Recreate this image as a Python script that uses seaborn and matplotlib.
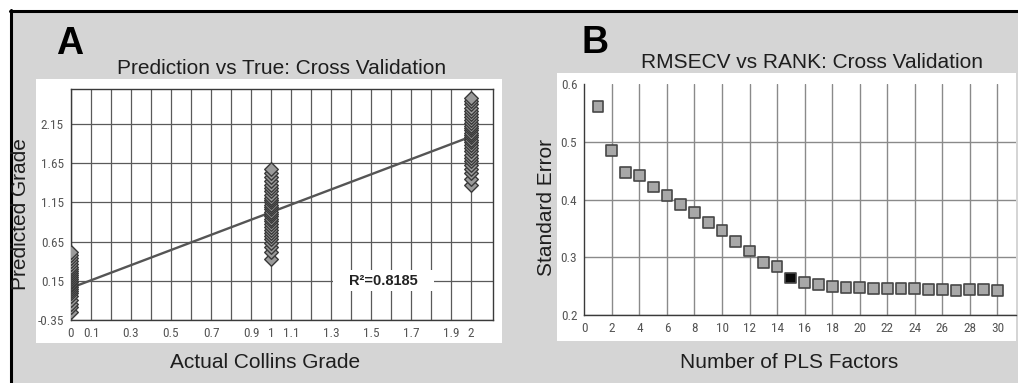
import matplotlib
matplotlib.use("Agg")
import matplotlib.pyplot as plt
from matplotlib.patches import Rectangle
from matplotlib.lines import Line2D
import seaborn as sns
import pandas as pd

# ---------------- Data: panel A (Prediction vs True) ----------------
grade0_pred = [-0.25, -0.19, -0.14, -0.09, -0.05, -0.01, 0.02, 0.05, 0.07, 0.09,
               0.11, 0.13, 0.15, 0.17, 0.2, 0.22, 0.25, 0.27, 0.3, 0.33,
               0.36, 0.4, 0.44, 0.48, 0.52]
grade1_pred = [0.43, 0.52, 0.58, 0.63, 0.68, 0.72, 0.76, 0.8, 0.84, 0.88,
               0.91, 0.94, 0.97, 1.0, 1.03, 1.06, 1.09, 1.12, 1.15, 1.18,
               1.21, 1.25, 1.29, 1.33, 1.37, 1.42, 1.47, 1.52, 1.57]
grade2_pred = [1.37, 1.45, 1.52, 1.58, 1.63, 1.68, 1.72, 1.76, 1.8, 1.84,
               1.88, 1.92, 1.95, 1.98, 2.01, 2.04, 2.07, 2.1, 2.13, 2.16,
               2.2, 2.24, 2.28, 2.32, 2.36, 2.4, 2.44, 2.48]
fit_x = [0.0, 2.0]
fit_y = [0.06, 1.99]
r2_label = "R\u00b2=0.8185"
a_xticks = [0.0, 0.1, 0.2, 0.3, 0.4, 0.5, 0.6, 0.7, 0.8, 0.9, 1.0,
            1.1, 1.2, 1.3, 1.4, 1.5, 1.6, 1.7, 1.8, 1.9, 2.0]
a_xticklabels = ["0", "0.1", "", "0.3", "", "0.5", "", "0.7", "", "0.9", "1",
                 "1.1", "", "1.3", "", "1.5", "", "1.7", "", "1.9", "2"]
a_yticks = [-0.35, 0.15, 0.65, 1.15, 1.65, 2.15]
a_yticklabels = ["-0.35", "0.15", "0.65", "1.15", "1.65", "2.15"]

# ---------------- Data: panel B (RMSECV vs rank) ----------------
n_factors = list(range(1, 31))
rmsecv = [0.561, 0.485, 0.447, 0.442, 0.422, 0.407, 0.392, 0.378, 0.361, 0.347,
          0.327, 0.311, 0.291, 0.284, 0.264, 0.257, 0.253, 0.249, 0.248, 0.248,
          0.246, 0.246, 0.246, 0.246, 0.244, 0.244, 0.242, 0.244, 0.244, 0.242]
selected_factor = 15
b_xticks = list(range(0, 31, 2))
b_yticks = [0.2, 0.3, 0.4, 0.5, 0.6]
b_yticklabels = ["0.2", "0.3", "0.4", "0.5", "0.6"]

# ---------------- Styling ----------------
sns.set_style("white")
plt.rcParams["font.family"] = ["Liberation Sans", "DejaVu Sans"]

W, H = 1018, 383
fig = plt.figure(figsize=(W / 100, H / 100), dpi=100)
fig.patch.set_facecolor("white")

def fx(px):
    return px / W

def fy(py):
    return 1 - py / H

def frect(x0, y0, x1, y1, **kw):
    r = Rectangle((fx(x0), fy(y1)), fx(x1) - fx(x0), fy(y0) - fy(y1),
                  transform=fig.transFigure, **kw)
    fig.patches.append(r)
    return r

PANEL = "#d5d5d5"
frect(10, 10, W + 2, H + 2, facecolor=PANEL, edgecolor="none", zorder=-10)
fig.lines.append(Line2D([fx(9.5), 1], [fy(10.5), fy(10.5)], transform=fig.transFigure,
                        color="black", lw=2.2, zorder=-5))
fig.lines.append(Line2D([fx(10.5), fx(10.5)], [fy(9.5), 0], transform=fig.transFigure,
                        color="black", lw=2.2, zorder=-5))
frect(36, 79, 502, 343, facecolor="white", edgecolor="none", zorder=-4)
frect(557, 73, 1016, 341, facecolor="white", edgecolor="none", zorder=-4)

tick_font = {"family": ["Roboto Condensed", "Liberation Sans"], "size": 9.5, "weight": "normal"}
TICKCOL = "#555555"

# ---------------- Panel A ----------------
axA = fig.add_axes([fx(71), fy(320), fx(492.7) - fx(71), fy(89) - fy(320)])
axA.set_facecolor("none")
dfA = pd.DataFrame({
    "actual": [0.0] * len(grade0_pred) + [1.0] * len(grade1_pred) + [2.0] * len(grade2_pred),
    "pred": grade0_pred + grade1_pred + grade2_pred,
})
sns.lineplot(x=fit_x, y=fit_y, ax=axA, color="#555555", lw=1.7, zorder=2)
sns.scatterplot(data=dfA, x="actual", y="pred", ax=axA, marker="D", s=48,
                color="#9a9a9a", edgecolor="#3a3a3a", linewidth=1.0, zorder=3)
axA.set_xlim(0, 2.108)
axA.set_ylim(-0.35, 2.596)
axA.set_xticks(a_xticks)
axA.set_xticklabels(a_xticklabels, fontdict=tick_font, color=TICKCOL)
axA.set_yticks(a_yticks)
axA.set_yticklabels(a_yticklabels, fontdict=tick_font, color=TICKCOL)
axA.grid(True, color="#5a5a5a", lw=0.9, zorder=0)
axA.set_axisbelow(True)
axA.tick_params(direction="inout", length=6, width=0.9, color="#333333", pad=2)
for sp in axA.spines.values():
    sp.set_color("#3a3a3a")
    sp.set_linewidth(1.0)
axA.set_xlabel("")
axA.set_ylabel("")

# R^2 box
frect(333, 270, 434, 291, facecolor="white", edgecolor="none", zorder=5)
fig.text(fx(383.5), fy(281), r2_label, ha="center", va="center", fontsize=10.5,
         fontweight="bold", color="#222222", zorder=6)

# ---------------- Panel B ----------------
axB = fig.add_axes([fx(584.3), fy(315), fx(1016) - fx(584.3), fy(84.3) - fy(315)])
axB.set_facecolor("none")
dfB = pd.DataFrame({"factors": n_factors, "rmsecv": rmsecv})
dfB["chosen"] = dfB["factors"] == selected_factor
sns.scatterplot(data=dfB, x="factors", y="rmsecv", hue="chosen", ax=axB, marker="s", s=60,
                palette={False: "#a8a8a8", True: "#0a0a0a"}, edgecolor="#474747",
                linewidth=1.2, legend=False, zorder=3)
axB.set_xlim(0, 31.35)
axB.set_ylim(0.2, 0.6)
axB.set_xticks(b_xticks)
axB.set_xticklabels([str(t) for t in b_xticks], fontdict=tick_font, color=TICKCOL)
axB.set_yticks(b_yticks)
axB.set_yticklabels(b_yticklabels, fontdict=tick_font, color=TICKCOL)
axB.grid(True, color="#8a8a8a", lw=1.0, zorder=0)
axB.get_ygridlines()[-1].set_visible(False)
axB.get_xgridlines()[0].set_visible(False)
axB.set_axisbelow(True)
axB.tick_params(direction="inout", length=6, width=0.9, color="#333333", pad=2)
for side in ["top", "right"]:
    axB.spines[side].set_visible(False)
for side in ["left", "bottom"]:
    axB.spines[side].set_color("#3a3a3a")
    axB.spines[side].set_linewidth(1.0)
axB.set_xlabel("")
axB.set_ylabel("")

# ---------------- Texts ----------------
TXT = "#1e1e1e"
fig.text(fx(69.5), fy(43.5), "A", ha="center", va="center", fontsize=27, fontweight="bold", color="black")
fig.text(fx(595), fy(43), "B", ha="center", va="center", fontsize=27, fontweight="bold", color="black")
fig.text(fx(281.5), fy(68), "Prediction vs True: Cross Validation", ha="center", va="center",
         fontsize=15, color=TXT)
fig.text(fx(812), fy(62), "RMSECV vs RANK: Cross Validation", ha="center", va="center",
         fontsize=15, color=TXT)
fig.text(fx(21), fy(214), "Predicted Grade", rotation=90, ha="center", va="center",
         fontsize=15, color=TXT)
fig.text(fx(546.7), fy(207.5), "Standard Error", rotation=90, ha="center", va="center",
         fontsize=15, color=TXT)
fig.text(fx(265), fy(363), "Actual Collins Grade", ha="center", va="center",
         fontsize=15, color=TXT)
fig.text(fx(789), fy(363), "Number of PLS Factors", ha="center", va="center",
         fontsize=15, color=TXT)

fig.savefig("out.png", dpi=100)
